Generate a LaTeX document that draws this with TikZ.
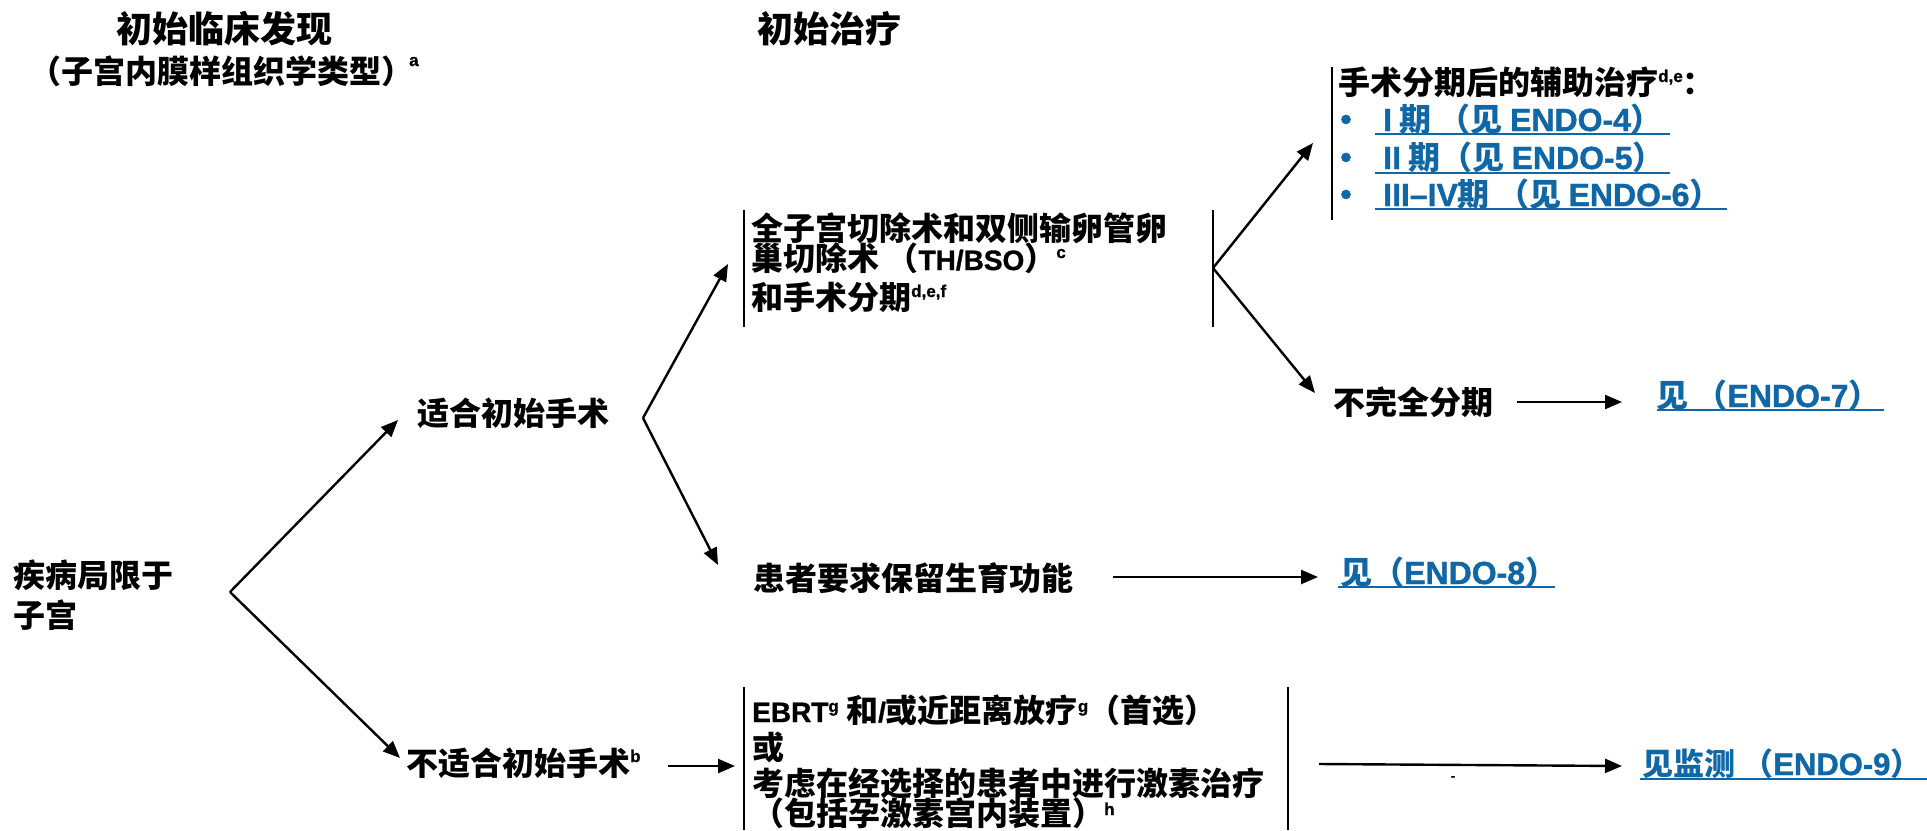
\documentclass[tikz,border=0pt]{standalone}
\usepackage{fontspec}
\setmainfont{Liberation Sans}
\newfontfamily\zhf{Noto Sans CJK SC}
\newfontfamily\latf{Liberation Sans}[UprightFont=* Bold,BoldFont=* Bold,FakeBold=1.2]
\usetikzlibrary{arrows.meta}
\definecolor{linkblue}{RGB}{16,103,166}
\newcommand\en[1]{{\latf #1}}
\newcommand\ens[1]{{\latf\fontsize{28}{28}\selectfont #1}}
\newcommand\sups[2][12pt]{\raisebox{#1}{\latf\fontsize{17}{17}\selectfont #2}}
\begin{document}
\begin{tikzpicture}[x=1pt,y=-1pt,
  txt/.style={anchor=base west,inner sep=0pt,font=\zhf\bfseries\fontsize{32}{32}\selectfont},
  ttl/.style={anchor=base,inner sep=0pt,font=\zhf\bfseries\fontsize{36}{36}\selectfont},
  lnk/.style={txt,text=linkblue},
  bul/.style={anchor=base,inner sep=0pt,text=linkblue,font=\latf\fontsize{32}{32}\selectfont},
  arr/.style={line width=2.4pt,-{Triangle[length=17pt,width=14pt]}},
  brk/.style={line width=2.4pt},
  uline/.style={line width=2pt,draw=linkblue}]
\fill[white] (0,0) rectangle (1927,830);
\useasboundingbox (0,0) rectangle (1927,830);

% titles
\node[ttl] (t1) at (224,42) {初始临床发现};
\node[txt] (t2) at (29,83) {（子宫内膜样组织学类型）\hspace{-4pt}\sups[17pt]{a}};
\node[ttl] (t3) at (829,42) {初始治疗};

% left
\node[txt] (dz1) at (13,587) {疾病局限于};
\node[txt] (dz2) at (13,627) {子宫};
\coordinate (f0) at (230,592);
\coordinate (f0a) at (398,420);
\coordinate (f0b) at (400,758);
\draw[arr] (f0) -- (f0a);
\draw[arr] (f0) -- (f0b);

\node[txt] (suit) at (417,425) {适合初始手术};
\node[txt] (unsuit) at (406,775) {不适合初始手术\sups[13pt]{b}};

\coordinate (f1) at (643,418);
\coordinate (f1a) at (728,264);
\coordinate (f1b) at (718,565);
\draw[arr] (f1) -- (f1a);
\draw[arr] (f1) -- (f1b);

% TH/BSO block
\coordinate (thL1) at (744,210); \coordinate (thL2) at (744,327);
\coordinate (thR1) at (1213,210); \coordinate (thR2) at (1213,327);
\draw[brk] (thL1) -- (thL2);
\draw[brk] (thR1) -- (thR2);
\node[txt] (th1) at (751,240) {全子宫切除术和双侧输卵管卵};
\node[txt] (th2) at (751,270) {巢切除术 （\ens{TH/BSO}）\sups{c}};
\node[txt] (th3) at (751,309) {和手术分期\sups{d,e,f}};

\coordinate (f2) at (1213,268);
\coordinate (f2a) at (1313,143);
\coordinate (f2b) at (1315,393);
\draw[arr] (f2) -- (f2a);
\draw[arr] (f2) -- (f2b);

% adjuvant block
\coordinate (adL1) at (1332,67); \coordinate (adL2) at (1332,220);
\draw[brk] (adL1) -- (adL2);
\node[txt] (adj) at (1338,94) {手术分期后的辅助治疗\sups{d,e}：};
\node[bul] (b1) at (1346,130) {•};
\node[bul] (b2) at (1346,168) {•};
\node[bul] (b3) at (1346,205) {•};
\node[lnk] (s1) at (1383,131) {\en{I} 期 （见 \en{ENDO-4}）};
\node[lnk] (s2) at (1383,169) {\en{II} 期（见 \en{ENDO-5}）};
\node[lnk] (s3) at (1383,206) {\en{III–IV}期 （见 \en{ENDO-6}）};
\draw[uline] (1375,134) -- (1670,134);
\draw[uline] (1375,172.5) -- (1670,172.5);
\draw[uline] (1375,209) -- (1727,209);

% incomplete staging
\node[txt] (inc) at (1333,414) {不完全分期};
\coordinate (a7s) at (1517,402);
\coordinate (a7e) at (1622,402);
\draw[arr] (a7s) -- (a7e);
\node[lnk] (e7) at (1656,407) {见 （\en{ENDO-7}）};
\draw[uline] (1657,410) -- (1884,410);

% fertility
\node[txt] (fert) at (753,590) {患者要求保留生育功能};
\coordinate (a8s) at (1113,577);
\coordinate (a8e) at (1318,577);
\draw[arr] (a8s) -- (a8e);
\node[lnk] (e8) at (1340,584) {见（\en{ENDO-8}）};
\draw[uline] (1338,587) -- (1555,587);

% bottom block
\coordinate (u0) at (668,766);
\coordinate (u1) at (735,766);
\draw[arr] (u0) -- (u1);
\coordinate (bL1) at (744,687); \coordinate (bL2) at (744,830);
\coordinate (bR1) at (1288,687); \coordinate (bR2) at (1288,830);
\draw[brk] (bL1) -- (bL2);
\draw[brk] (bR1) -- (bR2);
\node[txt] (r1) at (752,722) {\ens{EBRT}\sups[10pt]{g} 和\ens{/}或近距离放疗\sups[10pt]{g}（首选）};
\node[txt] (r2) at (752,759) {或};
\node[txt] (r3) at (752,795) {考虑在经选择的患者中进行激素治疗};
\node[txt] (r4) at (752,825) {（包括孕激素宫内装置）\sups[10pt]{h}};

\coordinate (a9s) at (1319,764);
\coordinate (a9e) at (1622,766);
\draw[arr] (a9s) -- (a9e);
\node[inner sep=0pt,font=\latf\fontsize{12}{12}\selectfont] (dash) at (1453,778) {-};
\node[lnk,font=\zhf\bfseries\fontsize{31}{31}\selectfont] (e9) at (1642,775) {见监测 （\en{ENDO-9}）};
\draw[uline] (1640,779) -- (1927,779);
\end{tikzpicture}
\end{document}
